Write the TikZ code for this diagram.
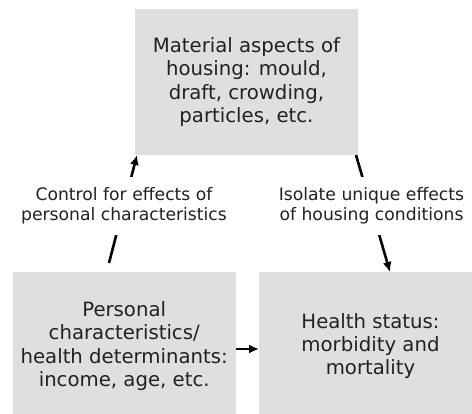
\documentclass[tikz,border=0pt]{standalone}
\usepackage{fontspec}
\setmainfont{DejaVu Sans}
\usetikzlibrary{arrows.meta}
\definecolor{boxgray}{gray}{0.875}
\definecolor{inkgray}{gray}{0.13}
\newcommand*\boxfont{\fontsize{19.7pt}{23.3pt}\selectfont}
\newcommand*\lblfont{\fontsize{17.2pt}{20pt}\selectfont}
\tikzset{
    box/.style   = {fill=boxgray, inner sep=0pt, outer sep=0pt,
                    minimum width=223pt, align=center,
                    font=\boxfont, text=inkgray, anchor=north west},
    lbl/.style   = {fill=white, align=center, font=\lblfont, text=inkgray,
                    inner xsep=2pt, inner ysep=10.5pt},
    arr/.style   = {line width=2.6pt, draw=black,
                    -{Latex[length=10pt,width=9pt]}},
  }

\begin{document}
\begin{tikzpicture}[x=1pt,y=-1pt]
    \useasboundingbox (0,0) rectangle (472,414);

    % Three grey boxes: housing on top, person and health below
    \node[box, minimum height=146pt] (mat) at (135,9)
        {Material aspects of\\housing: mould,\\draft, crowding,\\particles, etc.};
    \node[box, minimum height=148pt] (pc) at (12.7,272)
        {Personal\\characteristics/\\health determinants:\\income, age, etc.};
    \node[box, minimum height=148pt] (hs) at (259,272)
        {Health status:\\morbidity and\\mortality};

    % Loose end of the control arrow, just above the left box
    \coordinate (ctrlfoot) at (109,263);

    % Arrows
    \draw[arr] (ctrlfoot) -- ([xshift=2pt]mat.south west);
    \draw[arr] ([xshift=-2pt]mat.south east) -- ([xshift=19.5pt]hs.north);
    \draw[arr] ([yshift=-3pt]pc.east) -- ([yshift=-3pt]hs.west);

    % Labels sitting on top of the slanted arrows
    \node[lbl] (ctrl) at (124,206.2) {Control for effects of\\personal characteristics};
    \node[lbl] (iso)  at (371.5,206.2) {Isolate unique effects\\of housing conditions};
\end{tikzpicture}
\end{document}
